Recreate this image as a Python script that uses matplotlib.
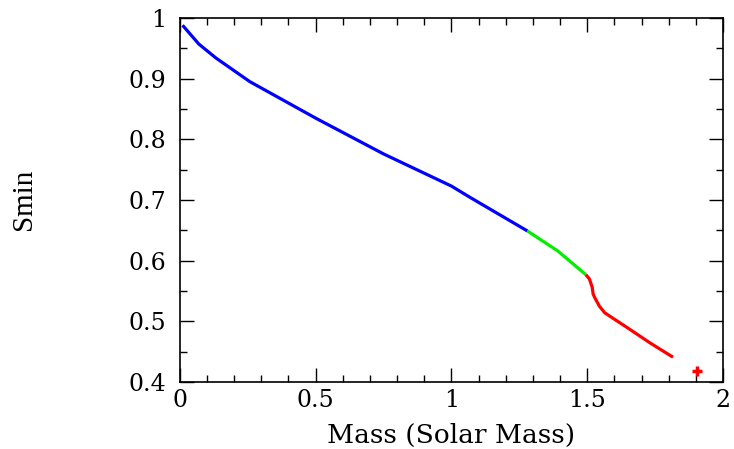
import matplotlib
matplotlib.use('Agg')
import matplotlib.pyplot as plt
from matplotlib.ticker import MultipleLocator

# donnees
mass_blue = [0.01, 0.07, 0.133, 0.258, 0.5, 0.75, 1.0, 1.07, 1.28]
smin_blue = [0.988, 0.957, 0.934, 0.895, 0.835, 0.776, 0.723, 0.704, 0.649]
mass_green = [1.28, 1.392, 1.495]
smin_green = [0.649, 0.616, 0.577]
mass_red = [1.495, 1.508, 1.518, 1.522, 1.528, 1.545, 1.565, 1.65, 1.73, 1.816]
smin_red = [0.577, 0.570, 0.557, 0.545, 0.539, 0.525, 0.514, 0.489, 0.465, 0.441]
mass_point = [1.904]
smin_point = [0.419]

fig = plt.figure(figsize=(7.34, 4.49), dpi=100)
ax = fig.add_axes([0.245, 0.149, 0.740, 0.811])

ax.plot(mass_blue, smin_blue, color='#0000ff', lw=2.3, solid_capstyle='butt')
ax.plot(mass_green, smin_green, color='#00ee00', lw=2.3, solid_capstyle='butt')
ax.plot(mass_red, smin_red, color='#ff0000', lw=2.3, solid_capstyle='butt')
ax.plot(mass_point, smin_point, '+', color='#ff0000', ms=7, mew=2.5)

ax.set_xlim(0, 2)
ax.set_ylim(0.4, 1.0)
ax.xaxis.set_major_locator(MultipleLocator(0.5))
ax.xaxis.set_minor_locator(MultipleLocator(0.1))
ax.yaxis.set_major_locator(MultipleLocator(0.1))
ax.yaxis.set_minor_locator(MultipleLocator(0.05))
ax.tick_params(which='both', direction='in', top=True, right=True, width=1)
ax.tick_params(which='major', length=10)
ax.tick_params(which='minor', length=5)
ax.tick_params(labelsize=17)
ax.tick_params(axis='x', pad=5)
ax.tick_params(axis='y', pad=10)
for sp in ax.spines.values():
    sp.set_linewidth(1.2)

ax.xaxis.set_major_formatter(plt.FuncFormatter(lambda v, p: '%g' % v))
ax.yaxis.set_major_formatter(plt.FuncFormatter(lambda v, p: '%g' % v))
for lab in ax.get_xticklabels() + ax.get_yticklabels():
    lab.set_family('DejaVu Serif')

ax.set_xlabel('Mass (Solar Mass)', family='DejaVu Serif', fontsize=19, labelpad=8)
fig.text(0.033, 0.555, 'Smin', rotation=90, ha='center', va='center',
         family='Liberation Serif', fontsize=21)

plt.savefig('out.png', dpi=100)
